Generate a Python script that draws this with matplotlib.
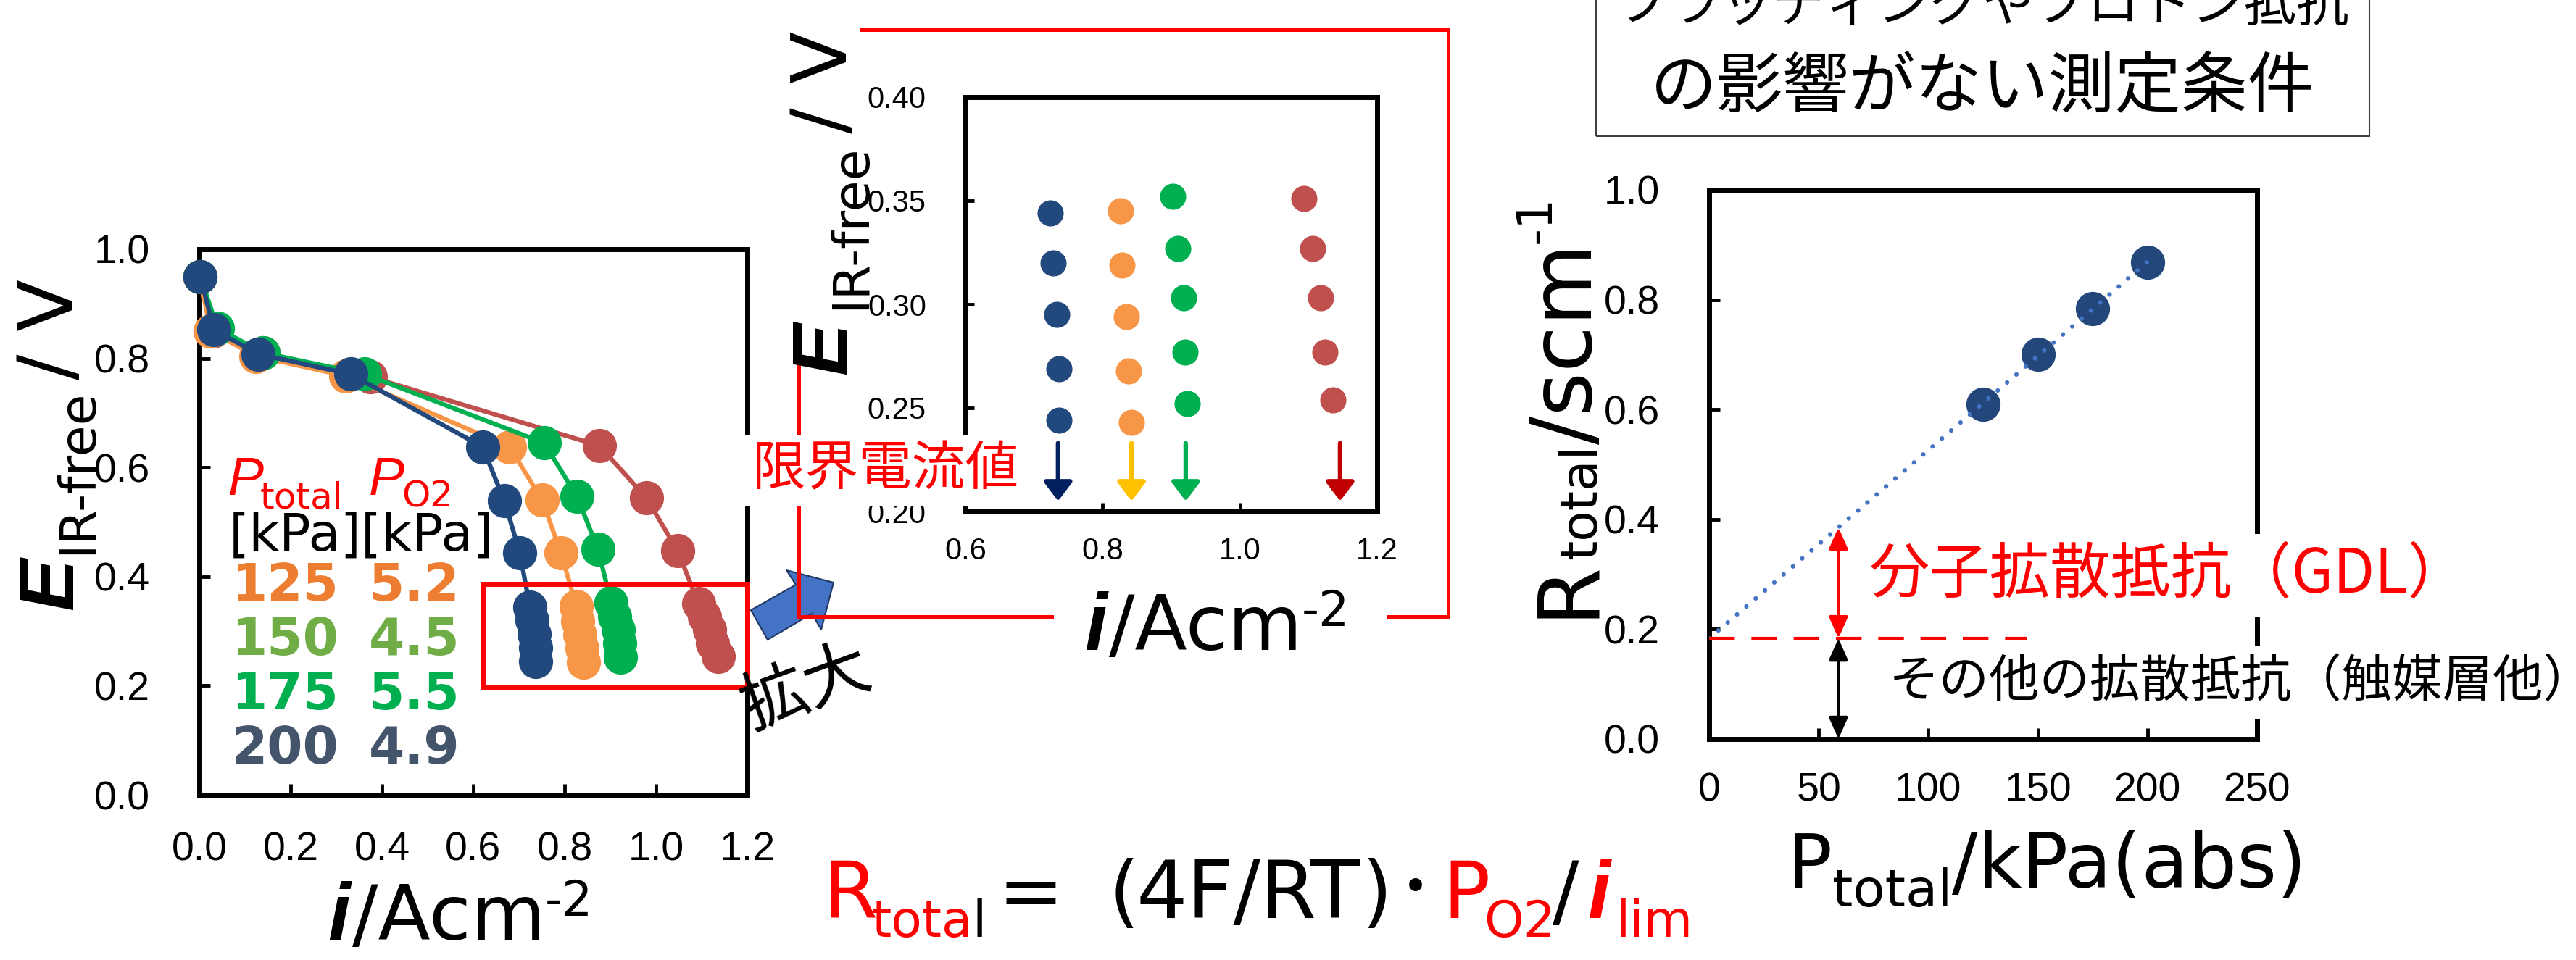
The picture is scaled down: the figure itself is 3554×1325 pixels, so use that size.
import numpy as np
import matplotlib
matplotlib.use('Agg')
import matplotlib.pyplot as plt
from matplotlib.patches import Polygon, Rectangle
from matplotlib.lines import Line2D
from matplotlib.ticker import FormatStrFormatter

plt.rcParams['font.family'] = ['Liberation Sans', 'Noto Sans CJK JP', 'DejaVu Sans']

# I-V curves: current density (A/cm2) and IR-free voltage (V) for each total pressure
i_125 = [0.002, 0.030, 0.140, 0.374, 0.876, 0.979, 1.047, 1.093, 1.106, 1.118, 1.124, 1.136]
e_125 = [0.950, 0.850, 0.810, 0.766, 0.640, 0.544, 0.448, 0.351, 0.327, 0.303, 0.277, 0.254]
i_150 = [0.002, 0.024, 0.124, 0.320, 0.680, 0.751, 0.792, 0.826, 0.828, 0.834, 0.838, 0.842]
e_150 = [0.950, 0.850, 0.804, 0.768, 0.637, 0.540, 0.443, 0.345, 0.319, 0.294, 0.268, 0.243]
i_175 = [0.002, 0.040, 0.140, 0.362, 0.755, 0.827, 0.873, 0.902, 0.910, 0.918, 0.920, 0.923]
e_175 = [0.950, 0.855, 0.810, 0.771, 0.645, 0.547, 0.450, 0.352, 0.327, 0.303, 0.277, 0.252]
i_200 = [0.002, 0.032, 0.129, 0.331, 0.620, 0.668, 0.702, 0.724, 0.728, 0.733, 0.736, 0.736]
e_200 = [0.950, 0.852, 0.808, 0.771, 0.638, 0.539, 0.443, 0.344, 0.320, 0.295, 0.269, 0.244]

# limiting current read at the arrows (same order: 125, 150, 175, 200 kPa)
i_lim = [1.146, 0.842, 0.921, 0.735]

# pressure conditions
p_total = [125, 150, 175, 200]
p_o2 = [5.2, 4.5, 5.5, 4.9]
r_total = [0.610, 0.700, 0.783, 0.868]

curve_colors = ['#C0504D', '#F79646', '#00B050', '#22497D']
arrow_colors = ['#C00000', '#FFC000', '#00B050', '#002060']
legend_colors = ['#ED7D31', '#70AD47', '#00B050', '#44546A']

W, H = 3555, 1325
fig = plt.figure(figsize=(W / 100, H / 100), dpi=100)


def fx(px):
    return px / W


def fy(py):
    return 1 - py / H


FONTS = {
    'r': dict(family='DejaVu Sans'),
    'b': dict(family='DejaVu Sans', weight='bold'),
    'bi': dict(family='Liberation Sans', weight='bold', style='italic'),
    'it': dict(family='Liberation Sans', style='italic'),
    'jp': dict(family='Noto Sans CJK JP'),
}


def put(px, py, s, size, color, font, **kw):
    return fig.text(fx(px), fy(py), s, fontsize=size, color=color,
                    ha='left', va='baseline', **FONTS[font], **kw)


def vput(bx, sy, s, size, font, color='black'):
    # rotated label piece: bx = baseline x, sy = where the text starts (bottom)
    return fig.text(fx(bx), fy(sy), s, fontsize=size, color=color, rotation=90,
                    rotation_mode='anchor', ha='left', va='baseline', **FONTS[font])


def chain(x, y, parts, rot=0):
    # lay out pieces of a label one after another (sub/superscripts via rise)
    r = fig.canvas.get_renderer()
    pos = 0
    for s, size, font, rise in parts:
        if rot:
            px, py = x - rise, y - pos
        else:
            px, py = x + pos, y - rise
        t = fig.text(fx(px), fy(py), s, fontsize=size, color='black', rotation=rot,
                     rotation_mode='anchor', ha='left', va='baseline', **FONTS[font])
        bb = t.get_window_extent(r)
        pos += bb.height if rot else bb.width


def style(ax, size, padx, pady, tlen):
    for sp in ax.spines.values():
        sp.set_linewidth(5)
    ax.tick_params(direction='in', length=tlen, width=3.5, labelsize=size,
                   top=False, right=False)
    ax.tick_params(axis='x', pad=padx)
    ax.tick_params(axis='y', pad=pady)


curves = [(i_125, e_125), (i_150, e_150), (i_175, e_175), (i_200, e_200)]

# ---- main I-V plot ----
ax = fig.add_axes([fx(275), fy(1097), (1031 - 275) / W, (1097 - 344) / H])
for (xs, ys), c in zip(curves, curve_colors):
    ax.plot(xs, ys, '-o', color=c, lw=4.5, ms=33, clip_on=False, zorder=3)
ax.set_xlim(0, 1.2)
ax.set_ylim(0, 1.0)
ax.set_xticks(np.arange(0, 1.21, 0.2))
ax.set_yticks(np.arange(0, 1.01, 0.2))
ax.xaxis.set_major_formatter(FormatStrFormatter('%.1f'))
ax.yaxis.set_major_formatter(FormatStrFormatter('%.1f'))
style(ax, 40, 36, 49, 11)
ax.add_patch(Rectangle((0.621, 0.198), 0.579, 0.188, fill=False, edgecolor='red',
                       lw=5, clip_on=False, zorder=10))

# ---- enlarged view near the limiting current ----
axi = fig.add_axes([fx(1332), fy(706), (1900 - 1332) / W, (706 - 134) / H])
for (xs, ys), c in zip(curves, curve_colors):
    axi.plot(xs[-5:], ys[-5:], 'o', color=c, ms=25, zorder=3)
for x, c in zip(i_lim, arrow_colors):
    axi.annotate('', xy=(x, 0.205), xytext=(x, 0.233),
                 arrowprops=dict(arrowstyle='-|>,head_length=0.4,head_width=0.3',
                                 color=c, lw=4.5, mutation_scale=40,
                                 shrinkA=0, shrinkB=0))
axi.set_xlim(0.6, 1.2)
axi.set_ylim(0.20, 0.40)
axi.set_xticks([0.6, 0.8, 1.0, 1.2])
axi.set_yticks([0.20, 0.25, 0.30, 0.35, 0.40])
axi.xaxis.set_major_formatter(FormatStrFormatter('%.1f'))
axi.yaxis.set_major_formatter(FormatStrFormatter('%.2f'))
style(axi, 30, 25, 39, 8.5)

# ---- R_total vs P_total ----
axr = fig.add_axes([fx(2358), fy(1020), (3114 - 2358) / W, (1020 - 262) / H])
coef = np.polyfit(p_total, r_total, 1)
r0 = coef[1]
axr.plot(p_total, r_total, 'o', color='#23477A', ms=33, zorder=3)
xs = np.array([0, 200])
axr.plot(xs, np.polyval(coef, xs), color='#4472C4', lw=4.5, ls=(0, (0.01, 2.7)),
         dash_capstyle='round', zorder=4)
axr.plot([0, 145], [r0, r0], color='red', lw=3, ls=(0, (8.5, 5.5)), clip_on=False, zorder=4)
axr.annotate('', xy=(59, np.polyval(coef, 59)), xytext=(59, r0),
             arrowprops=dict(arrowstyle='<|-|>,head_length=0.45,head_width=0.2',
                             color='red', lw=3, mutation_scale=40, shrinkA=0, shrinkB=0))
axr.annotate('', xy=(59, 0), xytext=(59, r0),
             arrowprops=dict(arrowstyle='<|-|>,head_length=0.45,head_width=0.2',
                             color='black', lw=3, mutation_scale=40, shrinkA=0, shrinkB=0))
axr.text(72.7, 0.298, '分子拡散抵抗（GDL）', color='red', fontsize=60, ha='left', va='center',
         clip_on=False, zorder=5, bbox=dict(fc='white', ec='none', pad=10), **FONTS['jp'])
axr.text(82, 0.103, 'その他の拡散抵抗（触媒層他）', color='black', fontsize=50, ha='left',
         va='center', clip_on=False, zorder=5, bbox=dict(fc='white', ec='none', pad=10),
         **FONTS['jp'])
axr.set_xlim(0, 250)
axr.set_ylim(0, 1.0)
axr.set_xticks(np.arange(0, 251, 50))
axr.set_yticks(np.arange(0, 1.01, 0.2))
axr.yaxis.set_major_formatter(FormatStrFormatter('%.1f'))
style(axr, 40, 33, 49, 11)

# ---- axis labels ----
# E_IR-free / V, main and enlarged plot
vput(100, 842, 'E', 78, 'bi')
vput(126, 765, 'IR-free', 50, 'r')
vput(100, 524, '/', 76, 'r')
vput(100, 457, 'V', 76, 'r')
vput(1167, 517, 'E', 78, 'bi')
vput(1193, 427, 'IR-free', 50, 'r')
vput(1167, 184, '/', 76, 'r')
vput(1167, 115, 'V', 76, 'r')

# i / Acm-2
for x0, y0 in [(452, 1297), (1496, 897)]:
    put(x0, y0, 'i', 80, 'black', 'bi')
    put(x0 + 34, y0, '/Acm', 76, 'black', 'r')
    put(x0 + 300, y0 - 33, '-2', 48, 'black', 'r')

chain(2466, 1225, [('P', 74, 'r', 0), ('total', 52, 'r', -26), ('/kPa(abs)', 76, 'r', 0)])
chain(2196, 853, [('R', 84, 'r', 0), ('total', 50, 'r', -6), ('/scm', 84, 'r', 0),
                  ('-1', 48, 'r', 57)], rot=90)

# ---- condition table inside the main plot ----
put(315, 683, 'P', 53, 'red', 'it')
put(359, 702, 'total', 36, 'red', 'r')
put(509, 683, 'P', 53, 'red', 'it')
put(554, 699, 'O2', 36, 'red', 'r')
put(316, 760, '[kPa][kPa]', 52, 'black', 'r')
for k, (pt, po, c) in enumerate(zip(p_total, p_o2, legend_colors)):
    put(319, 829 + 75 * k, str(pt), 51, c, 'b')
    put(509, 829 + 75 * k, f'{po:.1f}', 51, c, 'b')

# ---- red frame around the enlarged view ----
red = dict(transform=fig.transFigure, color='red', lw=3.6, solid_joinstyle='miter')
fig.add_artist(Line2D([fx(1189), fx(1998), fx(1998), fx(1916)],
                      [fy(41), fy(41), fy(851), fy(851)], **red))
fig.add_artist(Line2D([fx(1451), fx(1102), fx(1102)], [fy(851), fy(851), fy(499)], **red))
fig.text(fx(1038), fy(649), '限界電流値', color='red', fontsize=53, ha='left', va='center',
         zorder=5, bbox=dict(fc='white', ec='none', pad=8), **FONTS['jp'])

# block arrow pointing to the enlarged view
arrow_px = [(1036, 842), (1098, 807), (1085, 787), (1150, 804),
            (1133, 869), (1120, 847), (1059, 883)]
fig.add_artist(Polygon([(fx(x), fy(y)) for x, y in arrow_px], closed=True,
                       transform=fig.transFigure, fc='#4472C4', ec='#203864', lw=1.5))
fig.text(fx(1112), fy(951), '拡大', fontsize=66, rotation=20, ha='center', va='center',
         rotation_mode='anchor', **FONTS['jp'])

# ---- title box ----
fig.add_artist(Rectangle((fx(2202), fy(188)), (3269 - 2202) / W, 300 / H, fill=False,
                         edgecolor='#404040', lw=1.5, transform=fig.transFigure))
fig.text(fx(2735), fy(8), 'フラッディングやプロトン抵抗', fontsize=52, ha='center',
         va='center', **FONTS['jp'])
fig.text(fx(2735), fy(122), 'の影響がない測定条件', fontsize=66, ha='center',
         va='center', **FONTS['jp'])

# ---- formula ----
put(1135, 1267, 'R', 78, 'red', 'r')
put(1202, 1293, 'tota', 50, 'red', 'r')
put(1342, 1293, 'l', 50, 'black', 'r')
put(1377, 1267, '=', 78, 'black', 'r')
put(1530, 1267, '(', 78, 'black', 'r')
put(1568, 1267, '4F/RT', 80, 'black', 'r')
put(1878, 1267, ')', 78, 'black', 'r')
fig.text(fx(1953), fy(1228), '•', fontsize=44, ha='center', va='center', **FONTS['r'])
put(1990, 1267, 'P', 78, 'red', 'r')
put(2047, 1293, 'O2', 50, 'red', 'r')
put(2142, 1267, '/', 78, 'black', 'r')
put(2190, 1267, 'i', 81, 'red', 'bi')
put(2230, 1293, 'lim', 50, 'red', 'r')

fig.savefig('out.png', dpi=100)
